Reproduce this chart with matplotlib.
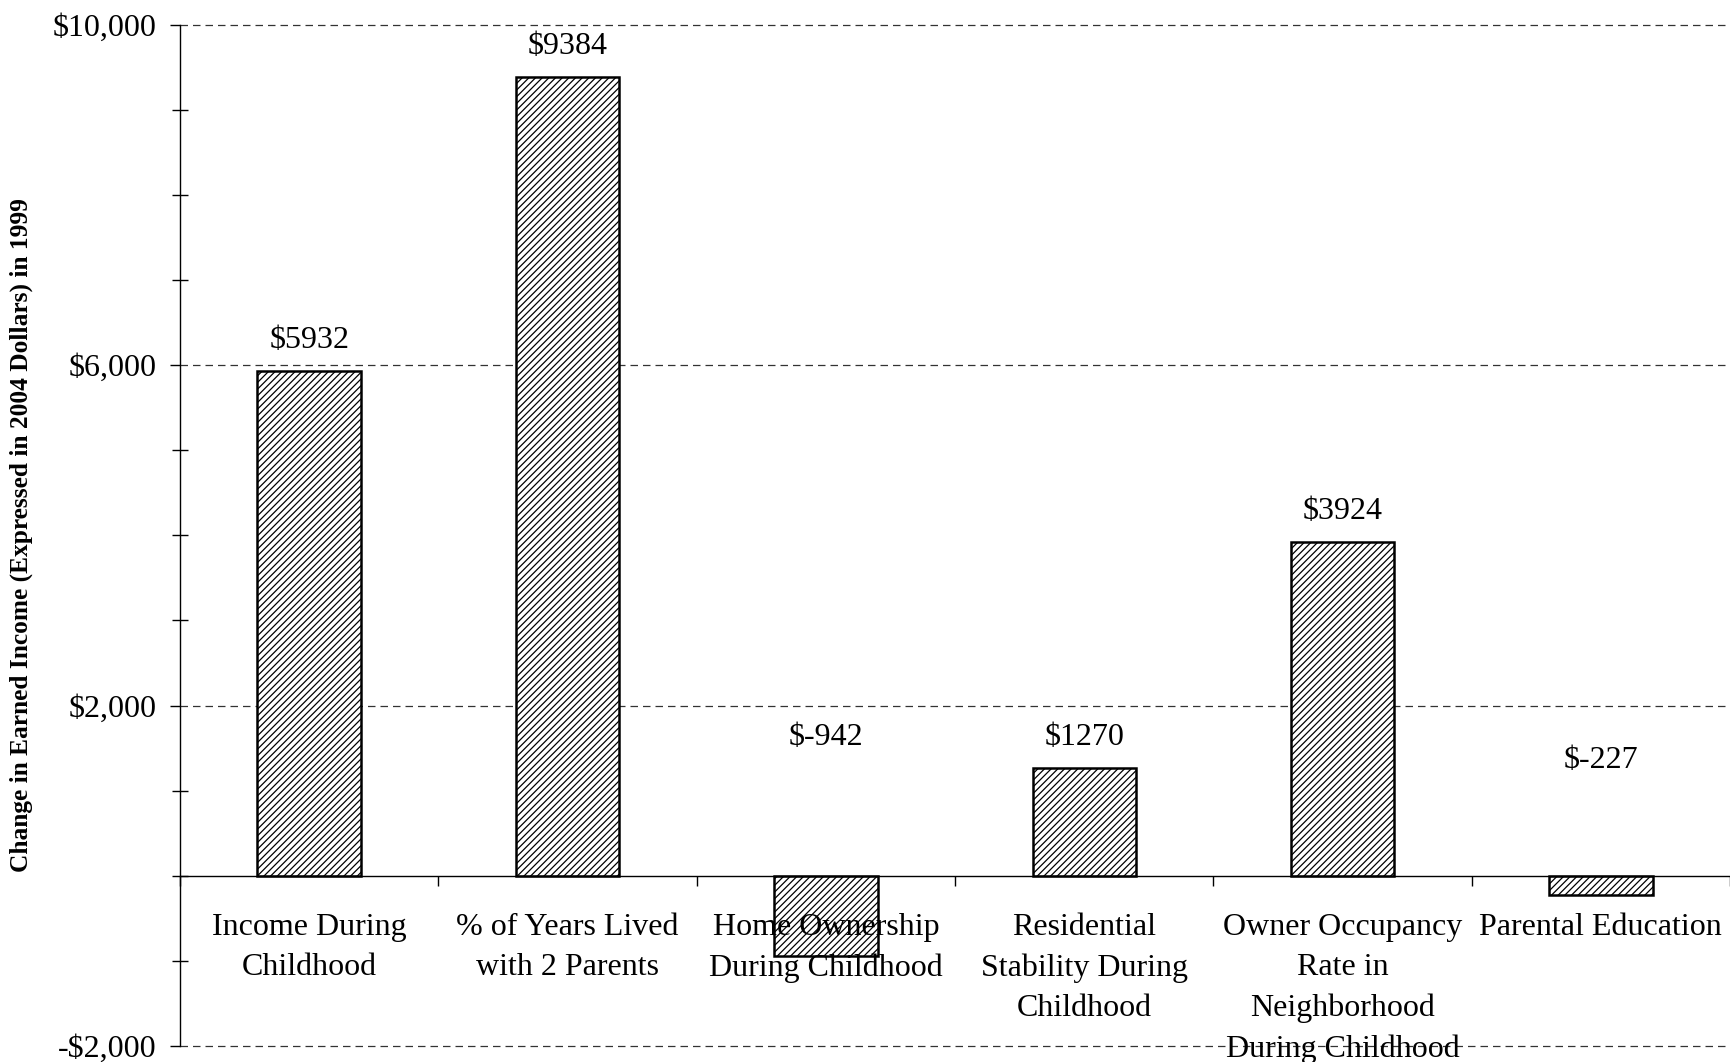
import matplotlib
matplotlib.use('Agg')
import matplotlib.pyplot as plt
import numpy as np
from matplotlib.ticker import MultipleLocator, FixedLocator, FuncFormatter

# data
categories = ['Income During\nChildhood', '% of Years Lived\nwith 2 Parents',
              'Home Ownership\nDuring Childhood', 'Residential\nStability During\nChildhood',
              'Owner Occupancy\nRate in\nNeighborhood\nDuring Childhood', 'Parental Education']
values = [5932, 9384, -942, 1270, 3924, -227]
value_labels = ['$5932', '$9384', '$-942', '$1270', '$3924', '$-227']
# negative bars get their label above the zero line (anchor in data units)
neg_label_anchor = {2: 1270, 5: 1000}
grid_levels = [-2000, 2000, 6000, 10000]

plt.rcParams['font.family'] = ['Liberation Serif', 'DejaVu Serif']
plt.rcParams['hatch.linewidth'] = 0.9
plt.rcParams['hatch.color'] = '#222222'

fig = plt.figure(figsize=(17.3, 10.62), dpi=100)
ax = fig.add_axes([180 / 1730, 1 - 1046 / 1062, 1 - 180 / 1730, (1046 - 24.7) / 1062])

x = np.arange(len(categories))
ax.bar(x, values, width=0.40, color='white', edgecolor='black', linewidth=1.8,
       hatch='/////', zorder=1)

# dashed gridlines behind the bars (drawn by hand so tick labels stay on top)
for g in grid_levels:
    ax.axhline(g, linestyle=(0, (6, 4)), color='#333333', linewidth=0.9,
               zorder=0.5, clip_on=False)

for i, (v, lab) in enumerate(zip(values, value_labels)):
    base = v if v > 0 else neg_label_anchor[i]
    ax.annotate(lab, (i, base), xytext=(0, 22), textcoords='offset points',
                ha='center', va='center', fontsize=23)

ax.set_xlim(-0.5, len(categories) - 0.5)
ax.set_ylim(-2000, 10000)

# y axis: labelled ticks every 4000 from -2000, small ticks every 1000
ax.yaxis.set_major_locator(FixedLocator(grid_levels))
ax.yaxis.set_minor_locator(MultipleLocator(1000))
ax.yaxis.set_major_formatter(FuncFormatter(lambda v, p: f'-${abs(v):,.0f}' if v < 0 else f'${v:,.0f}'))
ax.tick_params(axis='y', which='major', direction='out', length=7, width=1, labelsize=23, pad=10)
ax.tick_params(axis='y', which='minor', direction='inout', length=12, width=1)

# x axis sits on zero; tick marks between categories, labels at centres
ax.spines['bottom'].set_position(('data', 0))
ax.xaxis.set_major_locator(FixedLocator(np.arange(-0.5, len(categories), 1.0)))
ax.xaxis.set_major_formatter(FuncFormatter(lambda v, p: ''))
ax.xaxis.set_minor_locator(FixedLocator(x))
ax.set_xticklabels(categories, minor=True, fontsize=23, linespacing=1.5)
ax.tick_params(axis='x', which='major', direction='out', length=7, width=1)
ax.tick_params(axis='x', which='minor', length=0, pad=27)

for s in ('top', 'right'):
    ax.spines[s].set_visible(False)
ax.spines['left'].set_linewidth(1)
ax.spines['bottom'].set_linewidth(1)

ax.set_ylabel('Change in Earned Income (Expressed in 2004 Dollars) in 1999',
              fontsize=18.3, fontweight='bold')
ax.yaxis.set_label_coords(-0.095, 0.5)

fig.savefig('out.png', dpi=100)
